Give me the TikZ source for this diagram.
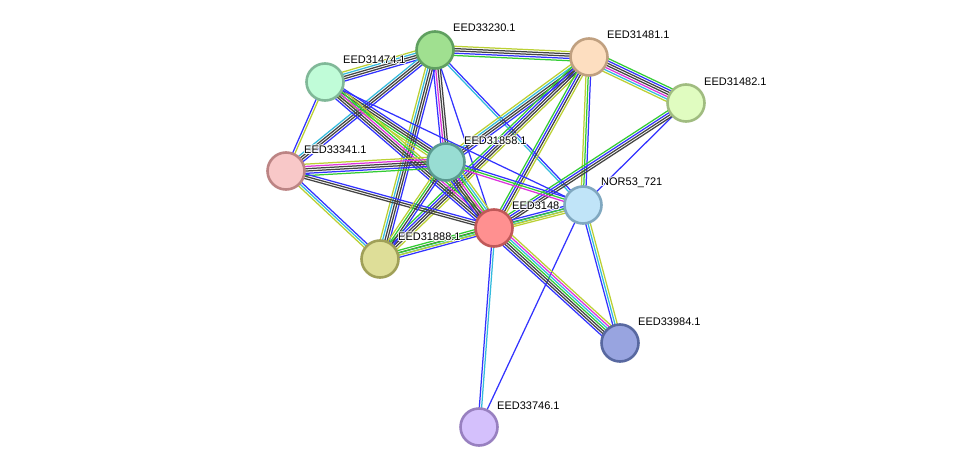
\documentclass[tikz,border=0pt]{standalone}
\usepackage{fontspec}
\setmainfont{Liberation Sans}
\usetikzlibrary{calc}
\pgfdeclarelayer{bg}
\pgfsetlayers{bg,main}
\definecolor{eg}{HTML}{33CC33}
\definecolor{eb}{HTML}{3333FF}
\definecolor{ek}{HTML}{444444}
\definecolor{em}{HTML}{DD33DD}
\definecolor{ey}{HTML}{BBD033}
\definecolor{ec}{HTML}{33BBDD}
\newcommand\sedge[3]{%
  \begin{pgfonlayer}{bg}
  \foreach \c [count=\n] in {#3} {\xdef\ecount{\n}}
  \foreach \c [count=\i] in {#3} {
    \pgfmathsetmacro\off{(\i-(\ecount+1)/2)*2.3}
    \draw[line width=1.25pt,color=\c] ($(#1)!\off pt!90:(#2)$) -- ($(#2)!\off pt!-90:(#1)$);
  }
  \end{pgfonlayer}%
}
\newcommand\lab[4]{% label name, node, y offset, text
  \foreach \dx/\dy in {-0.9/0,0.9/0,0/-0.9,0/0.9,-0.7/-0.7,0.7/0.7,-0.7/0.7,0.7/-0.7}
    \node[lbl,text=white] at ($(#2)+(18+\dx,#3+\dy)$) {#4};
  \node[lbl] (#1) at ($(#2)+(18,#3)$) {#4};
}
\tikzset{
  nd/.style={circle, minimum size=37pt, inner sep=0pt, line width=2.6pt},
  lbl/.style={anchor=west, inner sep=0pt, font=\fontsize{11}{13}\selectfont, text=black}
}
\begin{document}
\begin{tikzpicture}[x=1pt,y=-1pt]
\useasboundingbox (0,0) rectangle (976,473);
\begin{pgfonlayer}{bg}
\fill[white] (0,0) rectangle (976,473);
\end{pgfonlayer}
% nodes
\node[nd, fill={rgb,255:red,160;green,224;blue,144}, draw={rgb,255:red,96;green,160;blue,96}] (A) at (435,50) {};
\lab{Al}{A}{-22}{EED33230.1}
\node[nd, fill={rgb,255:red,253;green,222;blue,192}, draw={rgb,255:red,192;green,160;blue,128}] (B) at (589,57) {};
\lab{Bl}{B}{-22}{EED31481.1}
\node[nd, fill={rgb,255:red,192;green,252;blue,216}, draw={rgb,255:red,128;green,184;blue,152}] (C) at (325,82) {};
\lab{Cl}{C}{-22}{EED31474.1}
\node[nd, fill={rgb,255:red,224;green,252;blue,192}, draw={rgb,255:red,160;green,188;blue,128}] (D) at (686,103) {};
\lab{Dl}{D}{-21}{EED31482.1}
\node[nd, fill={rgb,255:red,248;green,200;blue,200}, draw={rgb,255:red,188;green,132;blue,132}] (E) at (286,171) {};
\lab{El}{E}{-21}{EED33341.1}
\node[nd, fill={rgb,255:red,152;green,221;blue,211}, draw={rgb,255:red,90;green,154;blue,144}] (F) at (446,162) {};
\lab{Fl}{F}{-21}{EED31858.1}
\node[nd, fill={rgb,255:red,222;green,222;blue,152}, draw={rgb,255:red,160;green,160;blue,88}] (I) at (380,259) {};
\lab{Il}{I}{-22}{EED31888.1}
\node[nd, fill={rgb,255:red,152;green,164;blue,224}, draw={rgb,255:red,88;green,104;blue,160}] (J) at (620,343) {};
\lab{Jl}{J}{-21}{EED33984.1}
\node[nd, fill={rgb,255:red,212;green,192;blue,252}, draw={rgb,255:red,152;green,128;blue,192}] (K) at (479,427) {};
\lab{Kl}{K}{-21}{EED33746.1}
\node[nd, fill={rgb,255:red,255;green,144;blue,144}, draw={rgb,255:red,192;green,88;blue,88}] (H) at (494,228) {};
\lab{Hl}{H}{-22}{EED3148}
\node[nd, fill={rgb,255:red,192;green,228;blue,248}, draw={rgb,255:red,128;green,168;blue,192}] (G) at (583,205) {};
\lab{Gl}{G}{-22}{NOR53\_721}
% edges
\sedge{A}{B}{eg,eb,ek,ek,ey}
\sedge{A}{C}{ey,ec,ek,ek,eb}
\sedge{A}{E}{ec,ek,ek,eb}
\sedge{A}{F}{eb,em,ek,ek}
\sedge{A}{I}{ey,ec,ek,ek,eb}
\sedge{A}{H}{eb}
\sedge{A}{G}{ec,eb}
\sedge{B}{D}{ey,ec,em,ek,ek,eb,eg}
\sedge{B}{G}{ey,eg,eb}
\sedge{B}{F}{ey,ec,ek,ek,eb}
\sedge{B}{I}{eg,eb,ek,ek,ey}
\sedge{B}{H}{eg,eb,ek,ey}
\sedge{D}{G}{eb}
\sedge{D}{H}{eg,eb,ek,ek}
\sedge{C}{E}{eb,ey}
\sedge{C}{F}{ey,eg,ek,ek,eb}
\sedge{C}{H}{eb,ek,ek,em,eg,ey}
\sedge{C}{G}{eb}
\sedge{E}{F}{eg,eb,ek,ek,em,ey}
\sedge{E}{H}{ek,ek,eb}
\sedge{E}{I}{ey,ec,eb}
\sedge{F}{G}{em,eg,eb}
\sedge{F}{H}{eb,ek,ek,em,eg,ec,ey}
\sedge{F}{I}{ey,eg,ek,eb}
\sedge{G}{H}{eb,eb,ec,ey}
\sedge{I}{H}{eb,ec,ek,eg}
\sedge{I}{G}{ey,eg}
\sedge{G}{J}{eb,ec,ey}
\sedge{G}{K}{eb}
\sedge{H}{J}{eb,ek,ek,eg,ec,em,ey}
\sedge{H}{K}{eb,ec}
\end{tikzpicture}
\end{document}
